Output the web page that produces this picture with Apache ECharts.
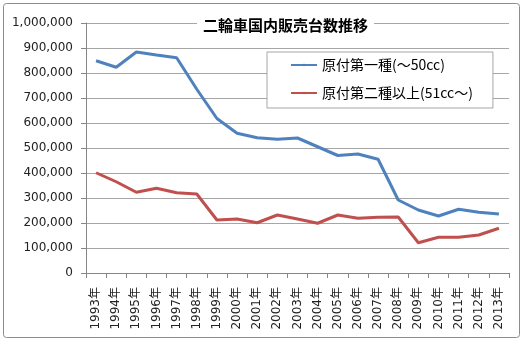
<!DOCTYPE html>
<html><head><meta charset="utf-8">
<script src="https://cdn.jsdelivr.net/npm/echarts@6/dist/echarts.min.js"></script>
<style>html,body{margin:0;padding:0;background:#fff}#c{width:525px;height:341px}</style>
</head><body><div id="c"></div>
<script>
const categories = ['1993年','1994年','1995年','1996年','1997年','1998年','1999年','2000年','2001年','2002年','2003年','2004年','2005年','2006年','2007年','2008年','2009年','2010年','2011年','2012年','2013年'];
const series1Name = '原付第一種(～50cc)';
const series1 = [849000,823000,884000,872000,861000,735000,618000,559000,541000,535000,540000,505000,470000,476000,455000,292000,252000,228000,255000,243000,236000];
const series2Name = '原付第二種以上(51cc～)';
const series2 = [401000,365000,323000,339000,321000,316000,212000,216000,201000,232000,216000,199000,232000,219000,223000,224000,121000,143000,143000,152000,179000];
const titleText = '二輪車国内販売台数推移';

const chart = echarts.init(document.getElementById('c'));
const FONT = '"DejaVu Sans", "Noto Sans CJK JP", sans-serif';
chart.setOption({
  animation: false,
  backgroundColor: '#fff',
  graphic: [{type:'rect', shape:{x:3.5,y:3.5,width:516,height:334,r:3}, style:{fill:'none',stroke:'#8c8c8c',lineWidth:1}, z:-1}],
  title: {
    text: titleText, left: 197, top: 16,
    backgroundColor: '#fff', padding: [2, 6],
    textStyle: {fontFamily: '"Noto Sans CJK JP", sans-serif', fontSize: 15, fontWeight: 'bold', color: '#000'}
  },
  legend: {
    orient: 'vertical', left: 267, top: 52,
    backgroundColor: '#fff', borderColor: '#a6a6a6', borderWidth: 1,
    padding: [6, 20, 8, 23],
    itemWidth: 26, itemHeight: 3, itemGap: 14,
    textStyle: {fontFamily: '"Noto Sans CJK JP", sans-serif', fontSize: 14, color: '#000'},
    data: [series1Name, series2Name]
  },
  grid: {left: 86, right: 16, top: 23, bottom: 68},
  xAxis: {
    type: 'category', data: categories, boundaryGap: true,
    axisLine: {lineStyle: {color: '#868686'}},
    axisTick: {show: true, length: 5, lineStyle: {color: '#868686'}},
    axisLabel: {rotate: 90, interval: 0, fontFamily: FONT, fontSize: 12, color: '#222', margin: 14}
  },
  yAxis: {
    type: 'value', min: 0, max: 1000000, interval: 100000,
    axisLine: {show: true, lineStyle: {color: '#868686'}},
    axisTick: {show: true, length: 5, lineStyle: {color: '#868686'}},
    splitLine: {lineStyle: {color: '#a6a6a6'}},
    axisLabel: {fontFamily: FONT, fontSize: 12, color: '#222', margin: 13,
      formatter: v => v.toLocaleString('en-US')}
  },
  series: [
    {name: series1Name, type: 'line', data: series1, symbol: 'none', lineStyle: {color: '#4F81BD', width: 3}, itemStyle: {color: '#4F81BD'}},
    {name: series2Name, type: 'line', data: series2, symbol: 'none', lineStyle: {color: '#C0504D', width: 3}, itemStyle: {color: '#C0504D'}}
  ]
});
</script></body></html>
